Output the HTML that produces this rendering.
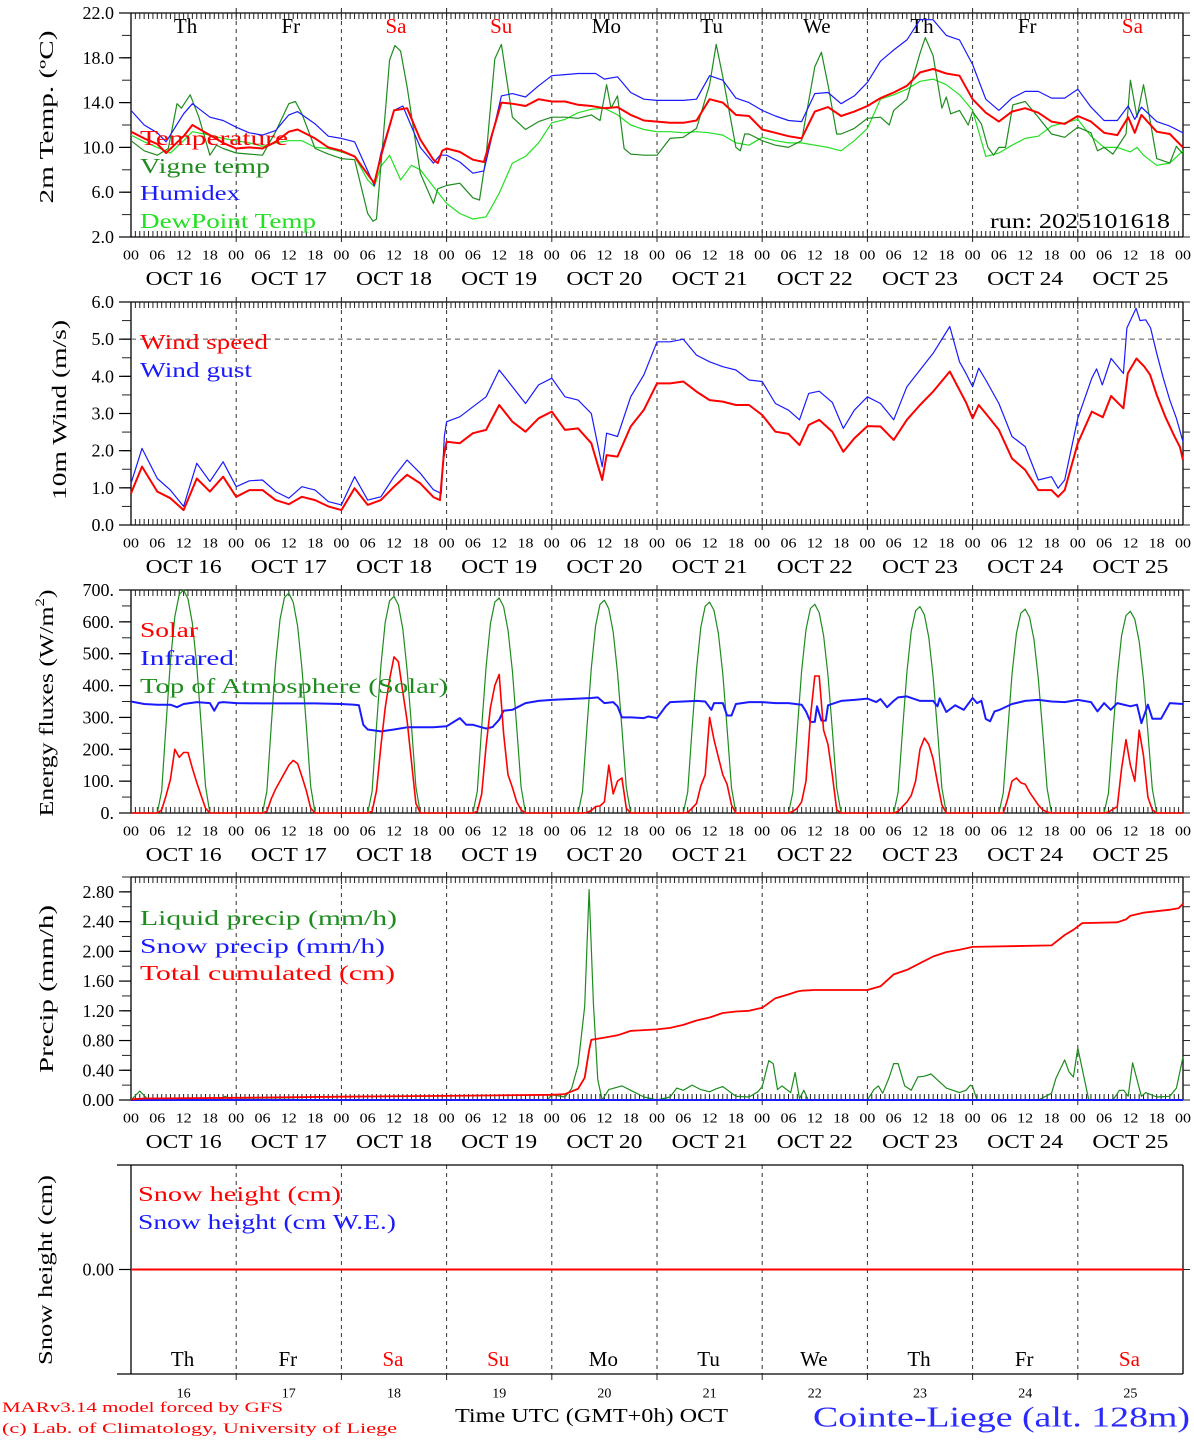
<!DOCTYPE html>
<html><head><meta charset="utf-8"><title>MAR forecast Cointe-Liege</title>
<style>
html,body{margin:0;padding:0;background:#fff;}
svg text{font-family:"Liberation Serif","DejaVu Serif",serif;}
</style></head>
<body>
<svg id="chart" xmlns="http://www.w3.org/2000/svg" width="1194" height="1440" viewBox="0 0 1194 1440">
<rect x="0" y="0" width="1194" height="1440" fill="#fff"/>
</svg>
<script>
// ---------------- DATA ----------------
const dayNames = ["Th","Fr","Sa","Su","Mo","Tu","We","Th","Fr","Sa"];
const dayNameRed = [false,false,true,true,false,false,false,false,false,true];
const dateNums = ["16","17","18","19","20","21","22","23","24","25"];
const hourLabels = ["00","06","12","18"];
const tempTicks = ["22.0","18.0","14.0","10.0","6.0","2.0"];
const windTicks = ["6.0","5.0","4.0","3.0","2.0","1.0","0.0"];
const fluxTicks = ["700.","600.","500.","400.","300.","200.","100.","0."];
const precipTicks = ["2.80","2.40","2.00","1.60","1.20","0.80","0.40","0.00"];

// [day, hour, value]
const temperature = [[0,0,11.4],[0,3,10.8],[0,6,10.3],[0,8,9.5],[0,12,11.0],[0,14,12.0],[0,18,11.1],[0,21,10.4],
[1,0,9.9],[1,3,10.0],[1,6,9.9],[1,9,10.5],[1,12,11.4],[1,14,11.6],[1,18,10.8],[1,21,10.0],
[2,0,9.7],[2,3,9.2],[2,6,7.6],[2,7.5,6.8],[2,9,9.2],[2,12,13.3],[2,15,13.5],[2,18,10.7],[2,21,8.9],[2,22,8.6],[2,23,9.7],
[3,0,9.9],[3,3,9.6],[3,6,8.9],[3,8.5,8.7],[3,12.5,14.0],[3,15,13.9],[3,18,13.7],[3,21,14.3],
[4,0,14.1],[4,3,14.1],[4,6,13.8],[4,9,13.7],[4,12,13.5],[4,15,13.6],[4,18,12.9],[4,21,12.4],
[5,0,12.3],[5,3,12.2],[5,6,12.2],[5,9,12.4],[5,12,14.3],[5,15,14.0],[5,18,12.9],[5,21,12.8],
[6,0,11.6],[6,3,11.3],[6,6,11.0],[6,9,10.8],[6,12,13.2],[6,15,13.6],[6,18,12.8],[6,21,13.2],
[7,0,13.7],[7,3,14.4],[7,6,14.9],[7,9,15.5],[7,12,16.7],[7,15,17.0],[7,18,16.6],[7,21,16.4],
[8,0,14.3],[8,3,13.1],[8,6,12.3],[8,9,13.2],[8,12,13.5],[8,15,13.1],[8,18,12.3],[8,21,12.1],
[9,0,12.8],[9,3,12.3],[9,6,11.3],[9,9,11.1],[9,11.5,12.7],[9,13,11.3],[9,14.5,12.9],[9,18,11.4],[9,21,11.2],[10,0,10.0]];

const humidex = [[0,0,13.3],[0,3,12.0],[0,6,11.3],[0,8,10.5],[0,12,13.0],[0,14,13.9],[0,18,12.7],[0,21,12.4],
[1,0,11.8],[1,3,11.3],[1,6,11.1],[1,9,11.5],[1,12,12.9],[1,14,13.2],[1,18,12.1],[1,21,11.0],
[2,0,10.8],[2,3,10.5],[2,6,7.9],[2,7.5,6.6],[2,9,9.5],[2,12,13.3],[2,14,13.7],[2,18,10.0],[2,21,8.6],[2,22.5,9.3],
[3,0,9.3],[3,3,8.7],[3,6,7.7],[3,8.5,7.9],[3,12.5,14.6],[3,15,14.8],[3,18,14.5],[3,21,15.5],
[4,0,16.4],[4,3,16.5],[4,6,16.6],[4,10,16.6],[4,12,16.1],[4,15,16.3],[4,18,14.9],[4,21,14.3],
[5,0,14.2],[5,3,14.2],[5,6,14.2],[5,9,14.3],[5,12,16.4],[5,15,16.0],[5,18,14.4],[5,21,14.0],
[6,0,13.3],[6,3,12.8],[6,6,12.4],[6,9,12.3],[6,12,14.8],[6,15,14.9],[6,18,13.9],[6,21,14.6],
[7,0,15.8],[7,3,17.7],[7,6,18.7],[7,9,19.6],[7,12,21.4],[7,15,21.4],[7,18,20.0],[7,21,19.6],
[8,0,17.4],[8,3,14.3],[8,6,13.3],[8,9,14.4],[8,12,15.0],[8,15,15.0],[8,18,14.4],[8,21,14.4],
[9,0,15.2],[9,3,13.6],[9,6,12.4],[9,9,12.4],[9,11.5,13.7],[9,13,12.5],[9,14.5,13.6],[9,18,12.3],[9,21,11.9],[10,0,11.3]];

const dewpoint = [[0,0,11.1],[0,3,10.5],[0,6,10.0],[0,9,9.5],[0,12,10.6],[0,14,11.4],[0,18,11.1],[0,21,10.8],
[1,0,10.6],[1,3,10.4],[1,6,10.1],[1,9,10.4],[1,12,10.6],[1,15,10.6],[1,18,10.0],[1,21,9.9],
[2,0,9.6],[2,3,9.2],[2,6,7.1],[2,7.5,6.5],[2,9,8.3],[2,11,9.3],[2,13.5,7.1],[2,16,8.4],[2,18,8.0],[2,21,6.5],
[3,0,5.0],[3,3,4.1],[3,6,3.6],[3,9,3.8],[3,12,5.9],[3,15,8.6],[3,18,9.2],[3,21,10.4],
[4,0,12.2],[4,3,12.5],[4,6,13.1],[4,9,13.4],[4,12,13.5],[4,15,12.9],[4,18,12.0],[4,21,11.6],
[5,0,11.4],[5,3,11.4],[5,6,11.3],[5,9,11.4],[5,12,11.3],[5,15,11.1],[5,18,10.4],[5,21,10.2],
[6,0,10.9],[6,3,10.6],[6,6,10.4],[6,9,10.4],[6,12,10.2],[6,15,10.0],[6,18,9.7],[6,21,10.6],
[7,0,11.7],[7,3,14.3],[7,6,14.7],[7,9,15.2],[7,12,15.9],[7,15,16.1],[7,18,15.6],[7,21,14.7],
[8,0,13.3],[8,3,9.2],[8,6,9.5],[8,9,10.2],[8,12,10.8],[8,15,11.0],[8,18,11.9],[8,21,12.2],
[9,0,12.5],[9,3,11.0],[9,6,10.0],[9,9,10.0],[9,12,9.6],[9,13.5,10.0],[9,15,9.3],[9,18,8.4],[9,21,8.6],[10,0,9.7]];

const vigneTemp = [[0,0,10.6],[0,3,9.7],[0,6,9.3],[0,8.5,9.9],[0,10.5,13.9],[0,11.5,13.5],[0,13.5,14.7],[0,15.5,12.7],[0,18,9.3],[0,19.5,10.2],[0,21,9.9],
[1,0,9.5],[1,3,9.4],[1,6,9.3],[1,9,11.4],[1,12,13.9],[1,13.5,14.1],[1,15,13.0],[1,18,9.9],[1,21,9.4],
[2,0,9.0],[2,3,8.9],[2,6,4.1],[2,7.2,3.4],[2,8,3.6],[2,11,17.8],[2,12.2,19.1],[2,13.5,18.6],[2,15,15.4],[2,18,7.7],[2,21,5.0],[2,22,6.3],
[3,0,6.6],[3,3,6.8],[3,6,5.5],[3,7.5,5.3],[3,9,9.2],[3,11,17.9],[3,12.5,19.2],[3,15,12.7],[3,18,11.6],[3,21,12.3],
[4,0,12.7],[4,3,12.7],[4,6,12.6],[4,9,12.9],[4,11,12.4],[4,12.5,15.6],[4,13.5,13.5],[4,15,14.6],[4,16.5,9.9],[4,18,9.4],[4,21,9.3],
[5,0,9.3],[5,3,10.8],[5,6,10.9],[5,9,11.7],[5,12,15.6],[5,13.5,19.2],[5,15,16.3],[5,18,10.0],[5,19,9.7],[5,20,11.2],[5,21,11.2],
[6,0,10.6],[6,3,10.2],[6,6,10.0],[6,9,10.6],[6,12,17.2],[6,13.5,18.5],[6,15,15.6],[6,17,11.2],[6,18,11.2],[6,21,11.7],
[7,0,12.6],[7,3,12.7],[7,5,12.0],[7,6,13.3],[7,9,14.3],[7,12,18.4],[7,13.2,19.8],[7,15,18.2],[7,17,13.5],[7,18,14.5],[7,19,13.0],[7,21,13.3],[7,23,12.0],
[8,0,13.2],[8,2,12.1],[8,3.5,10.0],[8,4.8,9.3],[8,6,10.0],[8,7.5,10.0],[8,9.2,13.8],[8,12,14.1],[8,15,12.7],[8,18,11.2],[8,21,10.9],
[9,0,11.8],[9,3,11.3],[9,4.5,9.7],[9,6,10.0],[9,8,9.4],[9,11,11.2],[9,12,16.0],[9,13.5,12.7],[9,15,15.6],[9,16.5,12.4],[9,18,9.0],[9,21,8.6],[9,22.5,10.1],[10,0,9.4]];

const windSpeed = [[0,0,0.85],[0,2.5,1.57],[0,6,0.9],[0,9,0.72],[0,12,0.4],[0,15,1.25],[0,18,0.9],[0,21,1.3],
[1,0,0.76],[1,3,0.94],[1,6,0.94],[1,9,0.67],[1,12,0.56],[1,15,0.76],[1,18,0.67],[1,21,0.5],
[2,0,0.4],[2,3,0.99],[2,6,0.54],[2,9,0.67],[2,12,1.03],[2,15,1.35],[2,18,1.12],[2,21,0.75],[2,22.5,0.67],[2,23.3,1.8],
[3,0,2.24],[3,3,2.2],[3,6,2.47],[3,9,2.56],[3,12,3.23],[3,15,2.78],[3,18,2.51],[3,21,2.87],
[4,0,3.05],[4,3,2.56],[4,6,2.6],[4,9,2.2],[4,11.5,1.21],[4,12.5,1.88],[4,15,1.84],[4,18,2.65],[4,21,3.1],
[5,0,3.81],[5,3,3.81],[5,6,3.86],[5,9,3.59],[5,12,3.36],[5,15,3.32],[5,18,3.23],[5,21,3.23],
[6,0,2.96],[6,3,2.51],[6,6,2.45],[6,8.5,2.15],[6,10.6,2.69],[6,13,2.83],[6,16,2.51],[6,18.5,1.97],[6,21,2.33],
[7,0,2.66],[7,3,2.65],[7,6,2.29],[7,9,2.83],[7,12,3.23],[7,15,3.59],[7,18.8,4.13],[7,21,3.63],[7,22.5,3.3],
[8,0,2.87],[8,1.4,3.23],[8,3,3.0],[8,6,2.56],[8,9,1.79],[8,12,1.48],[8,15,0.94],[8,18,0.94],[8,19.5,0.76],[8,21,0.94],
[9,0,2.2],[9,3.2,3.05],[9,5.7,2.9],[9,7.6,3.47],[9,10.4,3.14],[9,11.4,4.08],[9,13.4,4.48],[9,15.2,4.26],[9,16.5,4.04],[9,18,3.5],[9,20,2.9],[9,22,2.4],[9,23.3,2.1],[10,0,1.75]];

const windGust = [[0,0,1.12],[0,2.5,2.06],[0,6,1.25],[0,9,0.94],[0,12,0.5],[0,15,1.66],[0,18,1.17],[0,21,1.7],
[1,0,1.03],[1,3,1.19],[1,6,1.21],[1,9,0.9],[1,12,0.72],[1,15,1.03],[1,18,0.94],[1,21,0.63],
[2,0,0.54],[2,3,1.3],[2,6,0.67],[2,9,0.76],[2,12,1.3],[2,15,1.75],[2,18,1.39],[2,21,0.95],[2,22.8,0.85],[2,23.5,2.4],
[3,0,2.78],[3,3,2.91],[3,6,3.18],[3,9,3.45],[3,12,4.17],[3,15,3.72],[3,18,3.27],[3,21,3.77],
[4,0,3.95],[4,3,3.45],[4,6,3.36],[4,9,3.0],[4,11.5,1.57],[4,12.5,2.47],[4,15,2.38],[4,18,3.45],[4,21,4.04],
[5,0,4.93],[5,3,4.93],[5,6,5.0],[5,9,4.57],[5,12,4.39],[5,15,4.26],[5,18,4.17],[5,21,3.9],
[6,0,3.86],[6,3,3.27],[6,6,3.09],[6,8.5,2.83],[6,10.6,3.54],[6,13,3.6],[6,16,3.3],[6,18.5,2.6],[6,21,3.09],
[7,0,3.45],[7,3,3.27],[7,6,2.83],[7,9,3.72],[7,12,4.17],[7,15,4.62],[7,18.8,5.34],[7,21,4.39],[7,22.5,4.08],
[8,0,3.72],[8,1.4,4.22],[8,3,3.9],[8,6,3.27],[8,9,2.38],[8,12,2.11],[8,15,1.21],[8,18,1.3],[8,19.5,0.99],[8,21,1.21],
[9,0,2.87],[9,3.2,3.95],[9,4.3,4.2],[9,5.6,3.77],[9,7.6,4.48],[9,10.4,4.08],[9,11.2,5.3],[9,13.3,5.83],[9,14.2,5.5],[9,15.5,5.52],[9,16.6,5.3],[9,18,4.62],[9,19.5,3.95],[9,21,3.36],[9,22.5,2.87],[10,0,2.24]];

const solarByDay = [
[0,10,55,105,200,175,190,190,140,95,55,15,0],
[0,5,45,75,100,125,150,165,155,115,70,15,0],
[0,5,70,210,330,420,490,475,380,290,160,30,0],
[0,5,60,210,330,400,435,250,120,80,35,10,0],
[0,0,2,8,20,22,35,150,60,100,110,15,0],
[0,2,15,30,85,120,300,230,175,120,90,25,0],
[0,5,15,35,100,300,430,430,260,215,120,10,0],
[0,5,20,35,55,100,200,235,215,170,95,25,0],
[0,0,45,100,110,95,90,65,45,25,10,3,0],
[0,3,12,20,140,230,150,100,260,180,50,10,0]];
const toaByDay = [
[0,70,280,476,616,686,700,672,595,462,280,84,0],
[0,69,276,469,607,676,690,662,587,455,276,83,0],
[0,68,272,462,598,666,680,653,578,449,272,82,0],
[0,68,270,459,594,662,675,648,574,446,270,81,0],
[0,67,267,454,588,655,668,641,568,441,267,80,0],
[0,66,265,450,583,649,662,636,563,437,265,79,0],
[0,66,262,445,576,642,655,629,557,432,262,79,0],
[0,65,259,441,570,635,648,622,551,428,259,78,0],
[0,64,256,435,563,627,640,614,544,422,256,77,0],
[0,63,253,430,557,620,633,608,538,418,253,76,0]];
const infrared = [[0,0,350],[0,3,342],[0,6,340],[0,9,340],[0,10.5,332],[0,12,342],[0,15,348],[0,18,345],[0,19,321],[0,20,346],[0,21,348],
[1,0,345],[1,6,344],[1,12,344],[1,18,344],
[2,0,342],[2,3,340],[2,4,338],[2,5,277],[2,6,262],[2,9,256],[2,12,262],[2,15,269],[2,18,269],[2,21,269],
[3,0,272],[3,3,298],[3,4.5,277],[3,6,277],[3,9,265],[3,10.5,270],[3,12,293],[3,13,321],[3,15,324],[3,18,345],[3,21,352],
[4,0,355],[4,3,357],[4,6,359],[4,9,361],[4,10.5,363],[4,12,345],[4,14,348],[4,15,335],[4,16,300],[4,18,300],[4,21,298],[4,22,303],
[5,0,298],[5,2,335],[5,3,348],[5,6,350],[5,9,352],[5,11,350],[5,12.4,324],[5,13,345],[5,15,345],[5,16,306],[5,17,306],[5,18,342],[5,21,348],
[6,0,348],[6,3,345],[6,6,345],[6,9,340],[6,10,319],[6,11,286],[6,12,286],[6,12.5,335],[6,13.5,290],[6,14.5,290],[6,15,338],[6,18,352],[6,21,355],
[7,0,359],[7,2,348],[7,3,358],[7,4.5,332],[7,6,352],[7,7,363],[7,9,366],[7,12,352],[7,15,352],[7,16,335],[7,16.5,360],[7,18,317],[7,20,338],[7,22,324],
[8,0,361],[8,1,345],[8,2,352],[8,3,295],[8,4,288],[8,5,319],[8,6,323],[8,9,342],[8,12,352],[8,15,355],[8,18,350],[8,21,348],
[9,0,355],[9,3,348],[9,4.5,319],[9,6,345],[9,7.5,324],[9,9,345],[9,12,335],[9,13.5,340],[9,14.5,282],[9,16,340],[9,17,296],[9,19,296],[9,21,345],[10,0,342]];

const liquidPrecip = [[0,0,0],[0,2,0.12],[0,3.5,0.03],[0,5,0],[0,20,0],[0,21.5,0.05],[0,23,0],[1,0,0.01],[1,12,0.01],[2,0,0],
[3,23,0],[4,0,0.07],[4,3,0.04],[4,4.5,0.15],[4,6,0.47],[4,7.5,1.26],[4,8.5,2.83],[4,9.5,1.3],[4,10.5,0.27],[4,11.5,0],[4,13,0.14],[4,16,0.19],[4,18,0.13],[4,21,0.04],[4,24,0],
[5,3,0.04],[5,4.5,0.16],[5,6,0.13],[5,8,0.2],[5,10,0.14],[5,12,0.11],[5,13.5,0.15],[5,15,0.18],[5,18,0.05],[5,21,0.04],[5,23,0.11],
[6,0,0.18],[6,1.5,0.53],[6,2.5,0.49],[6,3.5,0.14],[6,4.5,0.19],[6,6.5,0.1],[6,7.5,0.37],[6,8.5,0.02],[6,9.5,0.13],[6,10.5,0],[6,24,0],
[7,1.5,0.14],[7,2.5,0.19],[7,3.5,0.09],[7,5,0.31],[7,6,0.49],[7,7,0.49],[7,8.5,0.19],[7,10,0.13],[7,11.5,0.31],[7,13,0.32],[7,14.5,0.35],[7,16,0.27],[7,18,0.16],[7,21,0.1],[7,22.5,0.13],[7,23.5,0.2],
[8,0,0.18],[8,1,0],[8,15,0],[8,16,0.03],[8,18,0.09],[8,19,0.29],[8,21,0.54],[8,22,0.38],[8,23,0.31],[9,0,0.7],
[9,2.5,0],[9,8,0],[9,9.5,0.13],[9,10.5,0.13],[9,11.5,0.05],[9,12.5,0.5],[9,14.5,0.05],[9,15.5,0.1],[9,18,0.04],[9,21,0.05],[9,22.5,0.16],[10,0,0.58]];

const cumulPrecip = [[0,0,0.01],[0,3,0.02],[1,0,0.03],[2,0,0.045],[3,0,0.055],[4,0,0.07],[4,3,0.08],[4,6,0.15],[4,7.5,0.3],[4,8.5,0.67],[4,9,0.81],[4,12,0.84],[4,15,0.87],[4,18,0.93],[4,21,0.94],
[5,0,0.95],[5,3,0.97],[5,6,1.01],[5,9,1.07],[5,12,1.11],[5,15,1.17],[5,18,1.19],[5,21,1.2],
[6,0,1.24],[6,3,1.37],[6,6,1.42],[6,8,1.46],[6,9,1.47],[6,12,1.48],[7,0,1.48],
[7,3,1.53],[7,6,1.69],[7,9,1.75],[7,12,1.84],[7,15,1.93],[7,18,1.99],[7,21,2.02],
[8,0,2.06],[8,18,2.08],[8,21,2.22],[8,23,2.29],[9,1,2.38],[9,9,2.39],[9,11,2.43],[9,12,2.48],[9,15,2.52],[9,18,2.54],[9,21,2.56],[9,23,2.58],[10,0,2.64]];
const snowPrecip = [[0,0,0],[10,0,0]];
const snowHeight = [[0,0,0],[10,0,0]];

// ---------------- LAYOUT ----------------
const svg = document.getElementById('chart');
const NS = 'http://www.w3.org/2000/svg';
const X0 = 131, X1 = 1183;
function xh(t){ return X0 + t*(X1-X0)/240; }
const panels = {
  temp:  {top:13,  bot:237, min:2,  max:22},
  wind:  {top:302, bot:525, min:0,  max:6},
  flux:  {top:590, bot:813, min:0,  max:700},
  prec:  {top:877, bot:1100,min:0,  max:3.0},
  snow:  {top:1165,bot:1374,min:-1, max:1}
};
function yv(p,v){ return p.bot - (v-p.min)/(p.max-p.min)*(p.bot-p.top); }
function mk(tag, attrs, parent){
  const e = document.createElementNS(NS, tag);
  for (const k in attrs) e.setAttribute(k, attrs[k]);
  (parent||svg).appendChild(e);
  return e;
}
function txt(s, x, y, size, color, anchor, parent, len){
  const e = mk('text', {x:x, y:y, 'font-size':size, fill:color||'#000', 'text-anchor':anchor||'start', 'dominant-baseline':'central'}, parent);
  if (len){ e.setAttribute('textLength', len); e.setAttribute('lengthAdjust','spacingAndGlyphs'); }
  e.textContent = s;
  return e;
}
function series(data, p, color, width, name){
  const pts = data.map(d => xh(d[0]*24+d[1]).toFixed(1)+','+yv(p,d[2]).toFixed(1)).join(' ');
  const e = mk('polyline', {points:pts, fill:'none', stroke:color, 'stroke-width':width, 'stroke-linejoin':'round'});
  
  
  return e;
}
function dailyToTriples(arr){
  const out = [[0,0,0]];
  arr.forEach((vals, d) => { vals.forEach((v,i) => out.push([d, 6+i, v])); });
  out.push([10,0,0]);
  return out;
}

function frame(p, key, ticks, tickVals, minorVals, hourLbl){
  const g = mk('g', {});
  
  
  for (let d=1; d<10; d++){
    const l = mk('line', {x1:xh(d*24), x2:xh(d*24), y1:p.top, y2:p.bot, stroke:'#333', 'stroke-width':1, 'stroke-dasharray':'4,4'}, g);
    
    
  }
  const xl = key==='snow' ? 117 : X0;
  mk('line', {x1:xl, x2:X1, y1:p.top, y2:p.top, stroke:'#000', 'stroke-width':1.3}, g);
  mk('line', {x1:xl, x2:X1, y1:p.bot, y2:p.bot, stroke:'#000', 'stroke-width':1.3}, g);
  mk('line', {x1:X0, x2:X0, y1:p.top, y2:p.bot, stroke:'#000', 'stroke-width':1.3}, g);
  mk('line', {x1:X1, x2:X1, y1:p.top, y2:p.bot, stroke:'#000', 'stroke-width':1.3}, g);
  if (hourLbl){
    for (let h=1; h<240; h++){
      const major = h%24===0;
      mk('line', {x1:xh(h), x2:xh(h), y1:p.top-(major?5:0), y2:p.top+(major?7:6), stroke:'#222', 'stroke-width':1}, g);
      mk('line', {x1:xh(h), x2:xh(h), y1:p.bot-(major?7:6), y2:p.bot+(major?5:0), stroke:'#222', 'stroke-width':1}, g);
    }
    for (let d=0; d<=10; d++){
      for (let k=0; k<4; k++){
        if (d===10 && k>0) break;
        txt(hourLabels[k], xh(d*24+k*6), p.bot+19, 14, '#000', 'middle', g, 16);
      }
      if (d<10) txt('OCT  '+dateNums[d], xh(d*24+12), p.bot+42, 20, '#000', 'middle', g, 76);
    }
  } else {
    for (let d=1; d<10; d++) mk('line', {x1:xh(d*24), x2:xh(d*24), y1:p.bot, y2:p.bot+6, stroke:'#222'}, g);
  }
  minorVals.forEach(v => {
    mk('line', {x1:X0-9, x2:X0, y1:yv(p,v), y2:yv(p,v), stroke:'#222', 'stroke-width':1}, g);
    mk('line', {x1:X1, x2:X1+7, y1:yv(p,v), y2:yv(p,v), stroke:'#222', 'stroke-width':1}, g);
  });
  tickVals.forEach((v,i) => {
    mk('line', {x1:X0-12, x2:X0, y1:yv(p,v), y2:yv(p,v), stroke:'#000', 'stroke-width':1.2}, g);
    const t = txt(ticks[i], X0-17, yv(p,v), 18, '#000', 'end', g);
    
    
  });
  return g;
}
function range(a,b,s){ const r=[]; for(let v=a; v<=b+1e-9; v+=s) r.push(+v.toFixed(4)); return r; }
function ytitle(s, x, yc, len, name){
  const t = mk('text', {x:0, y:0, 'font-size':20, fill:'#000', 'text-anchor':'middle', 'dominant-baseline':'central', transform:'translate('+x+','+yc+') rotate(-90)', textLength:len, lengthAdjust:'spacingAndGlyphs'});
  t.textContent = s;
  
  
}
function legend(s, x, y, color, len, name){
  const t = txt(s, x, y, 21, color, 'start', svg, len);
  
  
}

// Panel 1 temp
const P1 = panels.temp;
frame(P1, 'temp', tempTicks, [22,18,14,10,6,2], range(2,22,2), true);
for (let d=0; d<10; d++){
  const t = txt(dayNames[d], xh(d*24+12)+2, 26, 21, dayNameRed[d]?'#f00':'#000', 'middle');
  
  
}
series(dewpoint, P1, '#22e022', 1.2, 'dewpoint-line');
series(vigneTemp, P1, '#1e8c1e', 1.2, 'vigne-temp-line');
series(humidex, P1, '#1a1aff', 1.2, 'humidex-line');
series(temperature, P1, '#ff0000', 2, 'temperature-line');
legend('Temperature', 140, 138, '#f00', 148, 'legend-temperature');
legend('Vigne temp', 140, 166, '#1e8c1e', 130, 'legend-vigne-temp');
legend('Humidex', 140, 193, '#1a1aff', 100, 'legend-humidex');
legend('DewPoint Temp', 140, 221, '#22e022', 176, 'legend-dewpoint');
txt('run: 2025101618', 1170, 221, 21, '#000', 'end', svg, 180);
ytitle('2m Temp. (ºC)', 47, 117, 173, 'temp-y-axis-title');

// Panel 2 wind
const P2 = panels.wind;
frame(P2, 'wind', windTicks, [6,5,4,3,2,1,0], range(0,6,0.5), true);
mk('line', {x1:X0, x2:X1, y1:yv(P2,5), y2:yv(P2,5), stroke:'#555', 'stroke-width':1, 'stroke-dasharray':'5,4'});
series(windGust, P2, '#1a1aff', 1.2, 'wind-gust-line');
series(windSpeed, P2, '#ff0000', 2, 'wind-speed-line');
legend('Wind speed', 140, 342, '#f00', 128, 'legend-wind-speed');
legend('Wind gust', 140, 370, '#1a1aff', 112, 'legend-wind-gust');
ytitle('10m Wind (m/s)', 60, 410, 180, 'wind-y-axis-title');

// Panel 3 flux
const P3 = panels.flux;
frame(P3, 'flux', fluxTicks, [700,600,500,400,300,200,100,0], range(0,700,50), true);
series(dailyToTriples(toaByDay), P3, '#1e8c1e', 1.2, 'toa-solar-line');
series(infrared, P3, '#1a1aff', 2, 'infrared-line');
series(dailyToTriples(solarByDay), P3, '#ff0000', 1.6, 'solar-line');
legend('Solar', 140, 630, '#f00', 58, 'legend-solar');
legend('Infrared', 140, 658, '#1a1aff', 94, 'legend-infrared');
legend('Top of Atmosphere (Solar)', 140, 686, '#1e8c1e', 308, 'legend-toa');
const et = mk('text', {x:0,y:0,'font-size':20,fill:'#000','text-anchor':'middle','dominant-baseline':'central',transform:'translate(47,703) rotate(-90)', textLength:227, lengthAdjust:'spacingAndGlyphs'});


et.innerHTML = 'Energy fluxes (W/m<tspan font-size="13" dy="-8">2</tspan><tspan dy="8">)</tspan>';

// Panel 4 precip
const P4 = panels.prec;
frame(P4, 'prec', precipTicks, [2.8,2.4,2.0,1.6,1.2,0.8,0.4,0], range(0,3.0,0.2), true);
series(liquidPrecip, P4, '#1e8c1e', 1.2, 'liquid-precip-line');
series(snowPrecip, P4, '#1a1aff', 2, 'snow-precip-line');
series(cumulPrecip, P4, '#ff0000', 1.8, 'cumulated-precip-line');
legend('Liquid precip (mm/h)', 140, 918, '#1e8c1e', 257, 'legend-liquid-precip');
legend('Snow precip (mm/h)', 140, 946, '#1a1aff', 245, 'legend-snow-precip');
legend('Total cumulated (cm)', 140, 973, '#f00', 255, 'legend-cumulated');
ytitle('Precip (mm/h)', 47, 989, 168, 'precip-y-axis-title');

// Panel 5 snow
const P5 = panels.snow;
frame(P5, 'snow', ['0.00'], [0], [0], false);
series(snowHeight, P5, '#ff0000', 2, 'snow-height-line');
legend('Snow height (cm)', 138, 1194, '#f00', 203, 'legend-snow-height');
legend('Snow height (cm W.E.)', 138, 1222, '#1a1aff', 258, 'legend-snow-we');
ytitle('Snow height (cm)', 46, 1270, 190, 'snow-y-axis-title');
for (let d=0; d<10; d++){
  const t = txt(dayNames[d], xh(d*24+12)-1, 1359, 21, dayNameRed[d]?'#f00':'#000', 'middle');
  
  
  const n = txt(dateNums[d], xh(d*24+12), 1394, 14, '#000', 'middle');
  
  
}
txt('Time UTC (GMT+0h) OCT', 455, 1416, 20, '#000', 'start', svg, 273);
txt('MARv3.14 model forced by GFS', 2, 1408, 15, '#f00', 'start', svg, 281);
txt('(c) Lab. of Climatology, University of Liege', 2, 1429, 15, '#f00', 'start', svg, 395);
txt('Cointe-Liege (alt. 128m)', 813, 1418, 28, '#2a2aff', 'start', svg, 377);
</script>
</body></html>
